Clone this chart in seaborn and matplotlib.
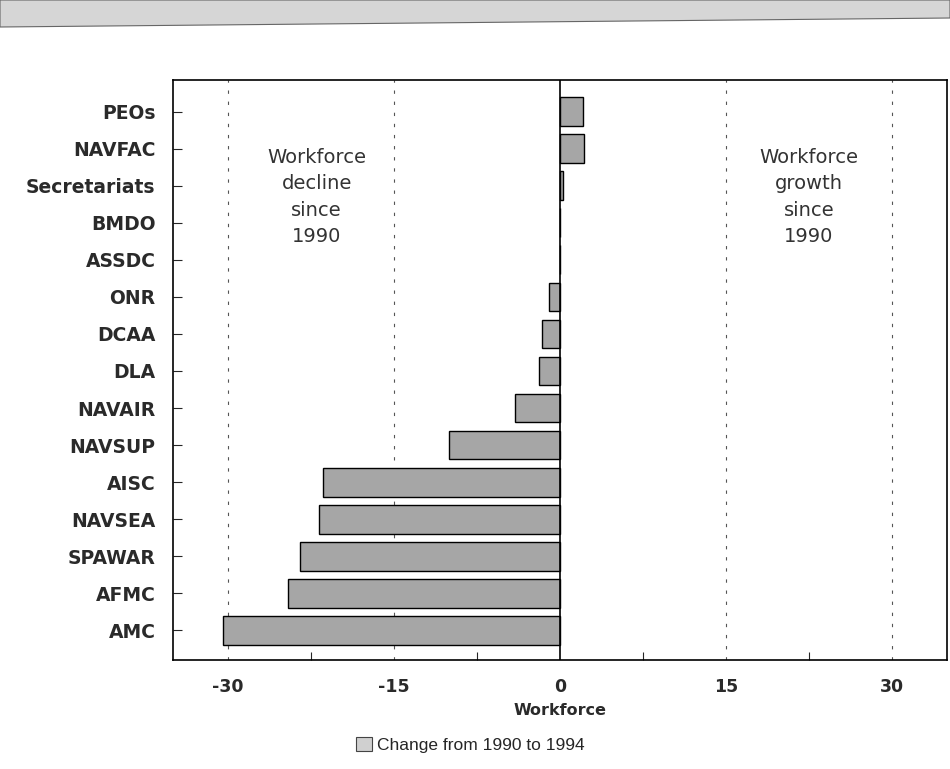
#!/usr/bin/env python
# coding: utf-8
"""
Workforce change by command, 1990 to 1994, as horizontal bars.
"""
import numpy as np
import pandas as pd
import seaborn as sns
from matplotlib import pyplot as plt
from matplotlib.patches import Patch, Polygon
from matplotlib.ticker import MultipleLocator

commands = ["PEOs", "NAVFAC", "Secretariats", "BMDO", "ASSDC", "ONR", "DCAA",
            "DLA", "NAVAIR", "NAVSUP", "AISC", "NAVSEA", "SPAWAR", "AFMC", "AMC"]
change = [2.1, 2.2, 0.3, 0.0, 0.0, -1.0, -1.6,
          -1.9, -4.1, -10.0, -21.4, -21.8, -23.5, -24.6, -30.5]
x_ticks = [-30, -15, 0, 15, 30]
legend_label = "Change from 1990 to 1994"

BAR_GREY = "#a6a6a6"
TEXT = "#2a2a2a"


def main():
    sns.set_style("white")
    plt.rcParams['font.family'] = ['DejaVu Sans']

    df = pd.DataFrame({"command": commands, "change": change})

    fig = plt.figure(figsize=(9.5, 7.69), dpi=100)
    ax = fig.add_axes([0.182, 0.142, 0.815, 0.754])

    # scan-like grey banner at the very top, slightly slanted
    fig.patches.append(Polygon([(0, 1), (1, 1), (1, 1 - 18 / 769), (0, 1 - 27 / 769)],
                               closed=True, transform=fig.transFigure,
                               facecolor="#d6d6d6", edgecolor="#666666", lw=0.8))

    sns.barplot(data=df, x="change", y="command", orient="h", color=BAR_GREY,
                edgecolor="black", linewidth=1.0, width=0.78, ax=ax)

    for v in [-30, -15, 15, 30]:
        ax.axvline(v, color="#555555", lw=0.8, ls=(0, (3, 7)), zorder=0)
    ax.axvline(0, color="black", lw=1.2, zorder=3)

    ax.set_xlim(-35, 35)
    ax.set_ylim(len(commands) - 0.2, -0.86)
    ax.set_xticks(x_ticks)
    ax.set_xticklabels([str(t) for t in x_ticks])
    ax.xaxis.set_minor_locator(MultipleLocator(7.5))
    ax.tick_params(axis="x", which="major", length=0, labelsize=12.5, pad=13,
                   labelcolor=TEXT)
    ax.tick_params(axis="x", which="minor", direction="in", length=6, width=0.8,
                   bottom=True)
    ax.tick_params(axis="y", direction="in", length=6.5, width=0.8, labelsize=13.5,
                   pad=12.5, left=True, labelcolor=TEXT)
    for lab in ax.get_yticklabels() + ax.get_xticklabels():
        lab.set_fontweight("bold")

    ax.set_xlabel("Workforce", fontsize=11.5, fontweight="bold", color=TEXT,
                  labelpad=5)
    ax.set_ylabel("")

    for s in ax.spines.values():
        s.set_color("black")
        s.set_linewidth(1.2)

    ax.text(-22.0, 2.3, "Workforce\ndecline\nsince\n1990", ha="center", va="center",
            fontsize=14, color="#333333", linespacing=1.5)
    ax.text(22.5, 2.3, "Workforce\ngrowth\nsince\n1990", ha="center", va="center",
            fontsize=14, color="#333333", linespacing=1.5)

    handle = Patch(facecolor="#d0d0d0", edgecolor="#444444", lw=0.8)
    fig.legend([handle], [legend_label], loc="center", bbox_to_anchor=(0.495, 0.031),
               frameon=False, handlelength=0.9, handleheight=0.9,
               handletextpad=0.3, prop={"family": "Liberation Sans", "size": 12.5})

    fig.savefig("out.png", dpi=100)


if __name__ == '__main__':
    main()
